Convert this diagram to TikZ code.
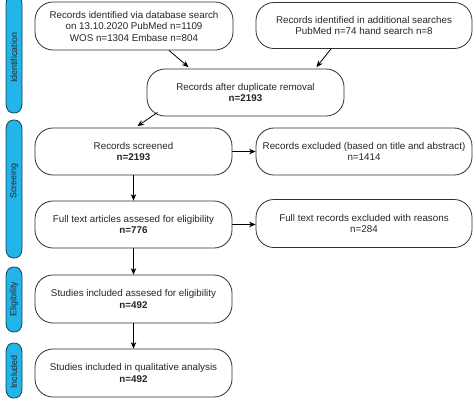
\documentclass[tikz,border=0pt]{standalone}
\usepackage{fontspec}
\setmainfont{Liberation Sans}
\usetikzlibrary{arrows.meta}
\definecolor{stripeblue}{HTML}{22B5EA}
\definecolor{stripeline}{HTML}{1B3F52}
\definecolor{boxline}{HTML}{303030}
\tikzset{
  flowbox/.style={draw=boxline, line width=0.8pt, rounded corners=18pt, fill=white,
    align=center, inner sep=2pt, font=\fontsize{9.8}{11.5}\selectfont, text=black!85},
  stripe/.style={draw=stripeline, line width=0.8pt, fill=stripeblue},
  stripelabel/.style={rotate=90, font=\fontsize{8.9}{10}\selectfont, text=black!85, inner sep=0pt},
  flowarrow/.style={draw=black, line width=0.8pt, -{Stealth[length=6.5pt,width=5.5pt]}}
}
\begin{document}
\begin{tikzpicture}[x=1pt,y=-1pt]
\useasboundingbox[fill=white] (0,0) rectangle (474,418);
% phase stripes (capsules)
\foreach \ya/\yb in {-5/113, 120/258, 267/332, 343/398}{
  \draw[stripe] (6,\ya+10) .. controls (6,\ya+2) and (10,\ya) .. (14,\ya)
     .. controls (18,\ya) and (22,\ya+2) .. (22,\ya+10)
     -- (22,\yb-10) .. controls (22,\yb-2) and (18,\yb) .. (14,\yb)
     .. controls (10,\yb) and (6,\yb-2) .. (6,\yb-10) -- cycle;
}
\node[stripelabel] (lid) at (14,58) {Identification};
\node[stripelabel] (lsc) at (14,181) {Screeing};
\node[stripelabel] (lel) at (14,299) {Eligibility};
\node[stripelabel] (lin) at (14,372) {Included};
% boxes
\node[flowbox, minimum width=198pt, minimum height=48pt] (b1) at (134,26)
  {Records identified via database search\\on 13.10.2020 PubMed n=1109\\WOS n=1304 Embase n=804};
\node[flowbox, minimum width=216pt, minimum height=46pt] (b2) at (364,25.5)
  {Records identified in additional searches\\PubMed n=74 hand search n=8};
\node[flowbox, minimum width=197pt, minimum height=47pt] (b3) at (245.5,92.5)
  {Records after duplicate removal\\\textbf{n=2193}};
\node[flowbox, minimum width=197pt, minimum height=47pt] (b4) at (133.5,151.5)
  {Records screened\\\textbf{n=2193}};
\node[flowbox, minimum width=216pt, minimum height=47pt] (b5) at (364,151.5)
  {Records excluded (based on title and abstract)\\n=1414};
\node[flowbox, minimum width=197pt, minimum height=47pt] (b6) at (133.5,224.5)
  {Full text articles assesed for eligibility\\\textbf{n=776}};
\node[flowbox, minimum width=216pt, minimum height=48pt] (b7) at (364,223.5)
  {Full text records excluded with reasons\\n=284};
\node[flowbox, minimum width=197pt, minimum height=48pt] (b8) at (133.5,299)
  {Studies included assesed for eligibility\\\textbf{n=492}};
\node[flowbox, minimum width=197pt, minimum height=48pt] (b9) at (133.5,373)
  {Studies included in qualitative analysis\\\textbf{n=492}};
% arrows
\draw[flowarrow] ([xshift=35pt]b1.south) -- ([xshift=-57pt,yshift=1.5pt]b3.north);
\draw[flowarrow] ([xshift=-33pt]b2.south) -- ([xshift=71pt,yshift=1.5pt]b3.north);
\draw[flowarrow] ([xshift=-88pt,yshift=4pt]b3.south) -- ([xshift=4pt,yshift=1.5pt]b4.north);
\draw[flowarrow] (b4.south) -- (b6.north);
\draw[flowarrow] (b6.south) -- (b8.north);
\draw[flowarrow] (b8.south) -- (b9.north);
\draw[flowarrow] (b4.east) -- (b4.east -| b5.west);
\draw[flowarrow] (b6.east) -- (b6.east -| b7.west);
\end{tikzpicture}
\end{document}
